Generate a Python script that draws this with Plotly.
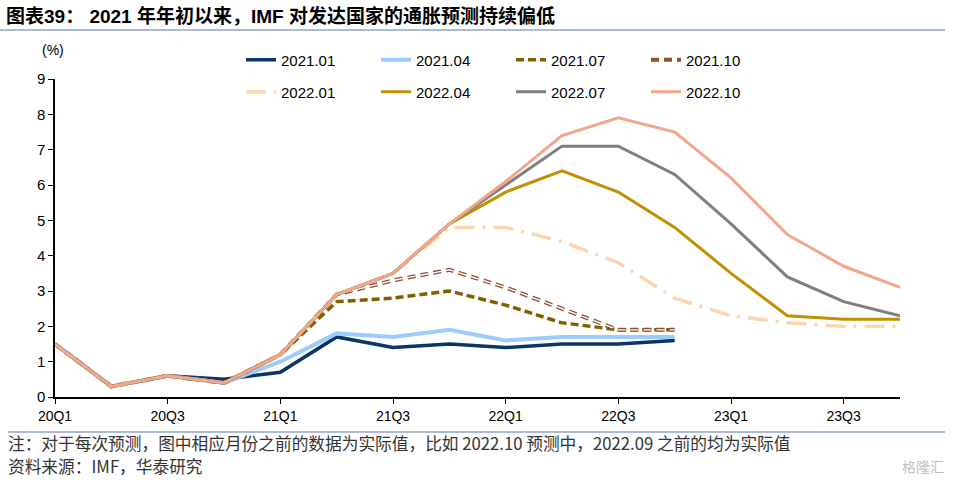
import plotly.graph_objects as go

quarters = ["20Q1", "20Q2", "20Q3", "20Q4", "21Q1", "21Q2", "21Q3", "21Q4",
            "22Q1", "22Q2", "22Q3", "22Q4", "23Q1", "23Q2", "23Q3", "23Q4"]
tick_labels = ["20Q1", "20Q3", "21Q1", "21Q3", "22Q1", "22Q3", "23Q1", "23Q3"]

f2021_01 = [1.5, 0.3, 0.6, 0.5, 0.7, 1.7, 1.4, 1.5, 1.4, 1.5, 1.5, 1.6, None, None, None, None]
f2021_04 = [1.5, 0.3, 0.6, 0.4, 1.0, 1.8, 1.7, 1.9, 1.6, 1.7, 1.7, 1.7, None, None, None, None]
f2021_07 = [1.5, 0.3, 0.6, 0.4, 1.2, 2.7, 2.8, 3.0, 2.6, 2.1, 1.9, 1.9, None, None, None, None]
f2021_10 = [1.5, 0.3, 0.6, 0.4, 1.2, 2.9, 3.3, 3.6, 3.1, 2.5, 1.9, 1.9, None, None, None, None]
f2022_01 = [1.5, 0.3, 0.6, 0.4, 1.2, 2.9, 3.5, 4.8, 4.8, 4.4, 3.8, 2.8, 2.3, 2.1, 2.0, 2.0]
f2022_04 = [1.5, 0.3, 0.6, 0.4, 1.2, 2.9, 3.5, 4.9, 5.8, 6.4, 5.8, 4.8, 3.5, 2.3, 2.2, 2.2]
f2022_07 = [1.5, 0.3, 0.6, 0.4, 1.2, 2.9, 3.5, 4.9, 6.0, 7.1, 7.1, 6.3, 4.9, 3.4, 2.7, 2.3]
f2022_10 = [1.5, 0.3, 0.6, 0.4, 1.2, 2.9, 3.5, 4.9, 6.1, 7.4, 7.9, 7.5, 6.2, 4.6, 3.7, 3.1]

xs = list(range(len(quarters)))
tickvals = [quarters.index(t) for t in tick_labels]

fig = go.Figure()

def add(name, ys, color, width, dash="solid", legend="legend", showlegend=True):
    fig.add_trace(go.Scatter(
        x=xs, y=ys, name=name, mode="lines",
        line=dict(color=color, width=width, dash=dash),
        legend=legend, showlegend=showlegend, connectgaps=False,
        hoverinfo="skip"))

add("2021.01", f2021_01, "#0b3566", 3.5)
add("2021.04", f2021_04, "#9dcbfa", 4)
add("2021.07", f2021_07, "#7f6000", 3.5, "8px,4px")
add("2021.10", f2021_10, "#8e4f33", 4, "8px,5px")
add("2021.10o", f2021_10, "#ffffff", 1.4, "8px,5px", showlegend=False)
add("2022.01", f2022_01, "#fdd5b1", 3.5, "20px,8px,3px,8px", legend="legend2")
add("2022.04", f2022_04, "#bf9000", 3, legend="legend2")
add("2022.07", f2022_07, "#7f7f7f", 3, legend="legend2")
add("2022.10", f2022_10, "#f2a68a", 3, legend="legend2")

W, H = 955, 485
L, T = 55, 79
R = W - 900
B = H - 397
pw = W - L - R
ph = H - T - B

def px_x(p):
    return (p - L) / pw

def px_y(p):
    return (H - B - p) / ph

legend_common = dict(orientation="h", xanchor="left", yanchor="middle",
                     font=dict(family="Liberation Sans, Arial", size=15, color="#000000"),
                     entrywidth=90, entrywidthmode="pixels",
                     bgcolor="rgba(0,0,0,0)", borderwidth=0, itemwidth=30,
                     tracegroupgap=0)

fig.update_layout(
    width=W, height=H,
    margin=dict(l=L, r=R, t=T, b=B, pad=0, autoexpand=False),
    paper_bgcolor="white", plot_bgcolor="white",
    showlegend=True,
    legend=dict(x=px_x(241), y=px_y(60), **legend_common),
    legend2=dict(x=px_x(241), y=px_y(92), **legend_common),
    xaxis=dict(range=[0, 15], tickmode="array", tickvals=tickvals, ticktext=tick_labels,
               showgrid=False, zeroline=False, showline=True, linecolor="#000000", linewidth=1.5,
               ticks="outside", ticklen=5, tickcolor="#000000",
               tickfont=dict(family="Liberation Sans, Arial", size=14, color="#000000")),
    yaxis=dict(range=[0, 9], tickmode="linear", tick0=0, dtick=1,
               showgrid=False, zeroline=False, showline=True, linecolor="#000000", linewidth=1.5,
               ticks="outside", ticklen=5, tickcolor="#000000",
               tickfont=dict(family="Liberation Sans, Arial", size=15, color="#000000")),
    font=dict(family="Liberation Sans, Arial"),
)

annotations = [
    dict(text="<b>图表39： 2021 年年初以来，IMF 对发达国家的通胀预测持续偏低</b>",
         x=px_x(4), y=px_y(16), xref="paper", yref="paper", xanchor="left", yanchor="middle",
         showarrow=False,
         font=dict(family="Liberation Sans, Noto Sans CJK SC", size=19, color="#000000")),
    dict(text="(%)", x=px_x(40), y=px_y(50), xref="paper", yref="paper", xanchor="left", yanchor="middle",
         showarrow=False, font=dict(family="Liberation Sans, Arial", size=14, color="#000000")),
    dict(text="注：对于每次预测，图中相应月份之前的数据为实际值，比如 2022.10 预测中，2022.09 之前的均为实际值",
         x=px_x(6), y=px_y(443), xref="paper", yref="paper", xanchor="left", yanchor="middle",
         showarrow=False, font=dict(family="Noto Sans CJK SC", size=16.7, color="#333333")),
    dict(text="资料来源：IMF，华泰研究",
         x=px_x(6), y=px_y(466), xref="paper", yref="paper", xanchor="left", yanchor="middle",
         showarrow=False, font=dict(family="Noto Sans CJK SC", size=16.7, color="#333333")),
    dict(text="格隆汇",
         x=px_x(946), y=px_y(466), xref="paper", yref="paper", xanchor="right", yanchor="middle",
         showarrow=False, font=dict(family="Noto Sans CJK SC", size=14, color="#c0c0c0")),
]
fig.update_layout(annotations=annotations)

fig.update_layout(shapes=[
    dict(type="line", xref="paper", yref="paper", x0=px_x(0), x1=px_x(945), y0=px_y(30), y1=px_y(30),
         line=dict(color="#5b7aa6", width=1.2)),
    dict(type="line", xref="paper", yref="paper", x0=px_x(8), x1=px_x(945), y0=px_y(432), y1=px_y(432),
         line=dict(color="#5b7aa6", width=1.2)),
])

fig.write_html("out.html", config={"displayModeBar": False},
               post_script="document.body.style.margin='0';")
